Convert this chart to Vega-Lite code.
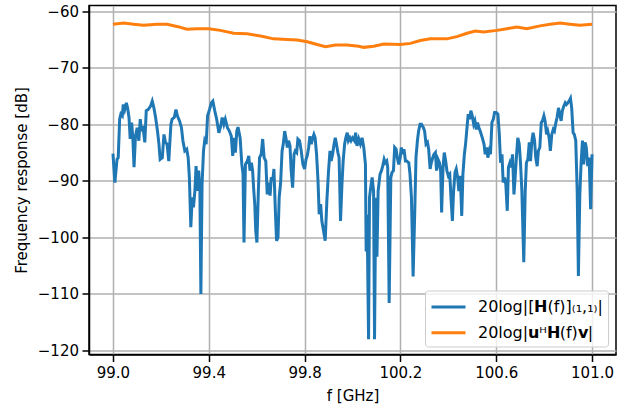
{
  "$schema": "https://vega.github.io/schema/vega-lite/v6.json",
  "width": 527,
  "height": 349,
  "autosize": {"type": "none"},
  "padding": {"left": 89, "top": 5.5, "right": 7, "bottom": 49.5},
  "config": {
    "font": "DejaVu Sans",
    "view": {"stroke": "black", "strokeWidth": 1.5},
    "axis": {
      "domainColor": "black", "domainWidth": 1.5,
      "tickColor": "black", "tickWidth": 1.5, "tickSize": 7,
      "gridColor": "#b0b0b0", "gridWidth": 1.5,
      "labelFont": "DejaVu Sans", "labelFontSize": 15, "labelColor": "black", "labelPadding": 3.5,
      "titleFont": "DejaVu Sans", "titleFontSize": 15, "titleFontWeight": "normal", "titleColor": "black"
    },
    "legend": {
      "orient": "bottom-right", "offset": 8, "padding": 5,
      "fillColor": "rgba(255,255,255,0.8)", "strokeColor": "#cccccc", "cornerRadius": 3,
      "symbolType": "M-1,0H2.4", "symbolSize": 400, "symbolStrokeWidth": 3,
      "labelFont": "DejaVu Sans", "labelFontSize": 16, "labelColor": "black", "labelOffset": 25,
      "rowPadding": 5.7, "labelLimit": 400
    }
  },
  "data": {"values": [
    {"f":99.000,"db":-85.2,"s":"H"},{"f":99.008,"db":-90.3,"s":"H"},{"f":99.017,"db":-86.2,"s":"H"},{"f":99.022,"db":-85.9,"s":"H"},
    {"f":99.028,"db":-79.1,"s":"H"},{"f":99.033,"db":-78.2,"s":"H"},{"f":99.039,"db":-78.5,"s":"H"},{"f":99.043,"db":-76.5,"s":"H"},
    {"f":99.049,"db":-77.4,"s":"H"},{"f":99.056,"db":-76.2,"s":"H"},{"f":99.061,"db":-77.1,"s":"H"},{"f":99.067,"db":-78.8,"s":"H"},
    {"f":99.072,"db":-82.6,"s":"H"},{"f":99.078,"db":-79.7,"s":"H"},{"f":99.083,"db":-82.4,"s":"H"},{"f":99.088,"db":-87.6,"s":"H"},
    {"f":99.094,"db":-82.1,"s":"H"},{"f":99.101,"db":-80.6,"s":"H"},{"f":99.108,"db":-82.9,"s":"H"},{"f":99.114,"db":-79.1,"s":"H"},
    {"f":99.119,"db":-81.2,"s":"H"},{"f":99.125,"db":-80.3,"s":"H"},{"f":99.133,"db":-83.2,"s":"H"},{"f":99.139,"db":-77.6,"s":"H"},
    {"f":99.147,"db":-77.4,"s":"H"},{"f":99.157,"db":-76.8,"s":"H"},{"f":99.164,"db":-75.9,"s":"H"},{"f":99.171,"db":-77.1,"s":"H"},
    {"f":99.178,"db":-78.8,"s":"H"},{"f":99.186,"db":-81.2,"s":"H"},{"f":99.192,"db":-83.5,"s":"H"},{"f":99.197,"db":-86.2,"s":"H"},
    {"f":99.206,"db":-85.9,"s":"H"},{"f":99.213,"db":-81.8,"s":"H"},{"f":99.219,"db":-83.2,"s":"H"},{"f":99.226,"db":-83.5,"s":"H"},
    {"f":99.233,"db":-86.5,"s":"H"},{"f":99.242,"db":-80.0,"s":"H"},{"f":99.247,"db":-79.1,"s":"H"},{"f":99.256,"db":-78.8,"s":"H"},
    {"f":99.263,"db":-77.4,"s":"H"},{"f":99.269,"db":-78.5,"s":"H"},{"f":99.278,"db":-79.4,"s":"H"},{"f":99.286,"db":-80.6,"s":"H"},
    {"f":99.292,"db":-82.9,"s":"H"},{"f":99.300,"db":-84.7,"s":"H"},{"f":99.308,"db":-84.4,"s":"H"},{"f":99.314,"db":-85.9,"s":"H"},
    {"f":99.319,"db":-89.4,"s":"H"},{"f":99.325,"db":-98.2,"s":"H"},{"f":99.331,"db":-92.9,"s":"H"},{"f":99.336,"db":-94.7,"s":"H"},
    {"f":99.342,"db":-91.8,"s":"H"},{"f":99.347,"db":-87.4,"s":"H"},{"f":99.353,"db":-91.8,"s":"H"},{"f":99.358,"db":-88.2,"s":"H"},
    {"f":99.363,"db":-91.8,"s":"H"},{"f":99.367,"db":-110.0,"s":"H"},{"f":99.372,"db":-90.6,"s":"H"},{"f":99.378,"db":-84.7,"s":"H"},
    {"f":99.383,"db":-82.9,"s":"H"},{"f":99.389,"db":-83.5,"s":"H"},{"f":99.395,"db":-78.5,"s":"H"},{"f":99.403,"db":-77.4,"s":"H"},
    {"f":99.411,"db":-76.2,"s":"H"},{"f":99.417,"db":-75.9,"s":"H"},{"f":99.425,"db":-77.6,"s":"H"},{"f":99.433,"db":-79.1,"s":"H"},
    {"f":99.442,"db":-81.5,"s":"H"},{"f":99.450,"db":-80.3,"s":"H"},{"f":99.456,"db":-78.8,"s":"H"},{"f":99.463,"db":-80.0,"s":"H"},
    {"f":99.469,"db":-79.1,"s":"H"},{"f":99.478,"db":-80.6,"s":"H"},{"f":99.486,"db":-81.2,"s":"H"},{"f":99.494,"db":-82.1,"s":"H"},
    {"f":99.500,"db":-85.6,"s":"H"},{"f":99.506,"db":-82.4,"s":"H"},{"f":99.511,"db":-85.0,"s":"H"},{"f":99.517,"db":-81.2,"s":"H"},
    {"f":99.522,"db":-80.5,"s":"H"},{"f":99.531,"db":-82.4,"s":"H"},{"f":99.538,"db":-87.1,"s":"H"},{"f":99.543,"db":-88.8,"s":"H"},
    {"f":99.547,"db":-100.9,"s":"H"},{"f":99.553,"db":-87.1,"s":"H"},{"f":99.561,"db":-86.5,"s":"H"},{"f":99.567,"db":-85.6,"s":"H"},
    {"f":99.572,"db":-88.2,"s":"H"},{"f":99.578,"db":-86.8,"s":"H"},{"f":99.583,"db":-88.2,"s":"H"},{"f":99.588,"db":-91.8,"s":"H"},
    {"f":99.592,"db":-94.1,"s":"H"},{"f":99.596,"db":-98.8,"s":"H"},{"f":99.601,"db":-100.9,"s":"H"},{"f":99.607,"db":-91.8,"s":"H"},
    {"f":99.612,"db":-85.9,"s":"H"},{"f":99.619,"db":-85.3,"s":"H"},{"f":99.625,"db":-82.6,"s":"H"},{"f":99.631,"db":-85.9,"s":"H"},
    {"f":99.638,"db":-86.5,"s":"H"},{"f":99.644,"db":-92.4,"s":"H"},{"f":99.650,"db":-90.3,"s":"H"},{"f":99.656,"db":-92.6,"s":"H"},
    {"f":99.661,"db":-89.4,"s":"H"},{"f":99.667,"db":-90.0,"s":"H"},{"f":99.672,"db":-87.9,"s":"H"},{"f":99.678,"db":-95.3,"s":"H"},
    {"f":99.683,"db":-100.6,"s":"H"},{"f":99.689,"db":-100.0,"s":"H"},{"f":99.694,"db":-92.9,"s":"H"},{"f":99.700,"db":-90.3,"s":"H"},
    {"f":99.706,"db":-84.7,"s":"H"},{"f":99.711,"db":-83.5,"s":"H"},{"f":99.717,"db":-81.2,"s":"H"},{"f":99.722,"db":-82.4,"s":"H"},
    {"f":99.728,"db":-84.1,"s":"H"},{"f":99.733,"db":-82.9,"s":"H"},{"f":99.739,"db":-83.8,"s":"H"},{"f":99.744,"db":-88.2,"s":"H"},
    {"f":99.750,"db":-91.2,"s":"H"},{"f":99.756,"db":-85.3,"s":"H"},{"f":99.761,"db":-84.7,"s":"H"},{"f":99.767,"db":-85.0,"s":"H"},
    {"f":99.772,"db":-82.6,"s":"H"},{"f":99.779,"db":-82.9,"s":"H"},{"f":99.786,"db":-84.7,"s":"H"},{"f":99.793,"db":-87.1,"s":"H"},
    {"f":99.800,"db":-87.9,"s":"H"},{"f":99.806,"db":-86.2,"s":"H"},{"f":99.811,"db":-85.6,"s":"H"},{"f":99.817,"db":-84.1,"s":"H"},
    {"f":99.822,"db":-82.1,"s":"H"},{"f":99.828,"db":-83.5,"s":"H"},{"f":99.833,"db":-82.6,"s":"H"},{"f":99.839,"db":-81.8,"s":"H"},
    {"f":99.844,"db":-82.4,"s":"H"},{"f":99.850,"db":-85.3,"s":"H"},{"f":99.856,"db":-90.0,"s":"H"},{"f":99.861,"db":-95.9,"s":"H"},
    {"f":99.867,"db":-94.1,"s":"H"},{"f":99.872,"db":-97.1,"s":"H"},{"f":99.879,"db":-98.8,"s":"H"},{"f":99.886,"db":-100.6,"s":"H"},
    {"f":99.893,"db":-93.5,"s":"H"},{"f":99.900,"db":-88.2,"s":"H"},{"f":99.906,"db":-84.7,"s":"H"},{"f":99.911,"db":-86.5,"s":"H"},
    {"f":99.917,"db":-85.3,"s":"H"},{"f":99.922,"db":-83.8,"s":"H"},{"f":99.928,"db":-82.4,"s":"H"},{"f":99.933,"db":-83.5,"s":"H"},
    {"f":99.939,"db":-85.0,"s":"H"},{"f":99.944,"db":-85.9,"s":"H"},{"f":99.950,"db":-97.1,"s":"H"},{"f":99.956,"db":-90.6,"s":"H"},
    {"f":99.961,"db":-86.5,"s":"H"},{"f":99.967,"db":-83.5,"s":"H"},{"f":99.972,"db":-82.4,"s":"H"},{"f":99.978,"db":-81.5,"s":"H"},
    {"f":99.983,"db":-82.9,"s":"H"},{"f":99.989,"db":-82.4,"s":"H"},{"f":99.994,"db":-82.9,"s":"H"},{"f":100.000,"db":-82.4,"s":"H"},
    {"f":100.008,"db":-82.9,"s":"H"},{"f":100.013,"db":-81.5,"s":"H"},{"f":100.019,"db":-83.8,"s":"H"},{"f":100.026,"db":-82.6,"s":"H"},
    {"f":100.033,"db":-83.5,"s":"H"},{"f":100.040,"db":-82.4,"s":"H"},{"f":100.047,"db":-84.1,"s":"H"},{"f":100.054,"db":-87.1,"s":"H"},
    {"f":100.057,"db":-102.5,"s":"H"},{"f":100.061,"db":-96.0,"s":"H"},{"f":100.067,"db":-118.0,"s":"H"},{"f":100.071,"db":-92.9,"s":"H"},
    {"f":100.076,"db":-91.2,"s":"H"},{"f":100.082,"db":-89.4,"s":"H"},{"f":100.088,"db":-91.8,"s":"H"},{"f":100.092,"db":-118.0,"s":"H"},
    {"f":100.097,"db":-93.0,"s":"H"},{"f":100.102,"db":-103.4,"s":"H"},{"f":100.107,"db":-91.8,"s":"H"},{"f":100.115,"db":-88.8,"s":"H"},
    {"f":100.121,"db":-88.2,"s":"H"},{"f":100.126,"db":-87.4,"s":"H"},{"f":100.132,"db":-86.2,"s":"H"},{"f":100.137,"db":-86.8,"s":"H"},
    {"f":100.143,"db":-86.5,"s":"H"},{"f":100.147,"db":-87.6,"s":"H"},{"f":100.153,"db":-111.6,"s":"H"},{"f":100.160,"db":-89.4,"s":"H"},
    {"f":100.165,"db":-88.5,"s":"H"},{"f":100.171,"db":-88.2,"s":"H"},{"f":100.176,"db":-84.1,"s":"H"},{"f":100.182,"db":-84.4,"s":"H"},
    {"f":100.187,"db":-85.9,"s":"H"},{"f":100.193,"db":-87.1,"s":"H"},{"f":100.199,"db":-85.9,"s":"H"},{"f":100.204,"db":-84.1,"s":"H"},
    {"f":100.210,"db":-85.3,"s":"H"},{"f":100.215,"db":-84.4,"s":"H"},{"f":100.221,"db":-86.5,"s":"H"},{"f":100.226,"db":-86.5,"s":"H"},
    {"f":100.235,"db":-86.8,"s":"H"},{"f":100.240,"db":-88.8,"s":"H"},{"f":100.246,"db":-92.9,"s":"H"},{"f":100.250,"db":-100.6,"s":"H"},
    {"f":100.253,"db":-106.9,"s":"H"},{"f":100.260,"db":-95.3,"s":"H"},{"f":100.265,"db":-85.9,"s":"H"},{"f":100.271,"db":-82.9,"s":"H"},
    {"f":100.276,"db":-81.2,"s":"H"},{"f":100.282,"db":-80.0,"s":"H"},{"f":100.288,"db":-80.0,"s":"H"},{"f":100.296,"db":-80.6,"s":"H"},
    {"f":100.301,"db":-81.2,"s":"H"},{"f":100.307,"db":-83.5,"s":"H"},{"f":100.313,"db":-83.2,"s":"H"},{"f":100.318,"db":-84.4,"s":"H"},
    {"f":100.324,"db":-87.9,"s":"H"},{"f":100.329,"db":-86.8,"s":"H"},{"f":100.335,"db":-85.9,"s":"H"},{"f":100.340,"db":-85.3,"s":"H"},
    {"f":100.346,"db":-85.0,"s":"H"},{"f":100.351,"db":-88.2,"s":"H"},{"f":100.357,"db":-86.2,"s":"H"},{"f":100.363,"db":-86.8,"s":"H"},
    {"f":100.368,"db":-88.2,"s":"H"},{"f":100.372,"db":-95.6,"s":"H"},{"f":100.378,"db":-87.6,"s":"H"},{"f":100.383,"db":-85.0,"s":"H"},
    {"f":100.389,"db":-86.5,"s":"H"},{"f":100.394,"db":-88.2,"s":"H"},{"f":100.400,"db":-89.1,"s":"H"},{"f":100.406,"db":-88.8,"s":"H"},
    {"f":100.411,"db":-92.9,"s":"H"},{"f":100.417,"db":-97.1,"s":"H"},{"f":100.422,"db":-91.8,"s":"H"},{"f":100.428,"db":-88.5,"s":"H"},
    {"f":100.433,"db":-87.9,"s":"H"},{"f":100.439,"db":-89.4,"s":"H"},{"f":100.444,"db":-91.8,"s":"H"},{"f":100.450,"db":-89.1,"s":"H"},
    {"f":100.456,"db":-96.2,"s":"H"},{"f":100.461,"db":-88.8,"s":"H"},{"f":100.467,"db":-85.3,"s":"H"},{"f":100.472,"db":-83.5,"s":"H"},
    {"f":100.478,"db":-80.6,"s":"H"},{"f":100.483,"db":-78.2,"s":"H"},{"f":100.489,"db":-79.1,"s":"H"},{"f":100.494,"db":-77.6,"s":"H"},
    {"f":100.500,"db":-78.5,"s":"H"},{"f":100.506,"db":-80.0,"s":"H"},{"f":100.511,"db":-79.4,"s":"H"},{"f":100.517,"db":-80.9,"s":"H"},
    {"f":100.522,"db":-79.7,"s":"H"},{"f":100.528,"db":-80.6,"s":"H"},{"f":100.533,"db":-81.2,"s":"H"},{"f":100.542,"db":-82.4,"s":"H"},
    {"f":100.549,"db":-83.5,"s":"H"},{"f":100.554,"db":-85.3,"s":"H"},{"f":100.560,"db":-84.1,"s":"H"},{"f":100.565,"db":-85.9,"s":"H"},
    {"f":100.571,"db":-84.7,"s":"H"},{"f":100.576,"db":-85.3,"s":"H"},{"f":100.582,"db":-79.7,"s":"H"},{"f":100.588,"db":-79.1,"s":"H"},
    {"f":100.593,"db":-77.9,"s":"H"},{"f":100.600,"db":-77.9,"s":"H"},{"f":100.607,"db":-78.2,"s":"H"},{"f":100.613,"db":-81.8,"s":"H"},
    {"f":100.618,"db":-86.8,"s":"H"},{"f":100.624,"db":-85.3,"s":"H"},{"f":100.629,"db":-90.3,"s":"H"},{"f":100.635,"db":-89.4,"s":"H"},
    {"f":100.640,"db":-90.6,"s":"H"},{"f":100.646,"db":-95.3,"s":"H"},{"f":100.651,"db":-87.6,"s":"H"},{"f":100.657,"db":-86.8,"s":"H"},
    {"f":100.663,"db":-87.6,"s":"H"},{"f":100.668,"db":-85.3,"s":"H"},{"f":100.674,"db":-92.4,"s":"H"},{"f":100.679,"db":-89.4,"s":"H"},
    {"f":100.685,"db":-85.3,"s":"H"},{"f":100.690,"db":-82.4,"s":"H"},{"f":100.696,"db":-83.5,"s":"H"},{"f":100.701,"db":-86.5,"s":"H"},
    {"f":100.707,"db":-91.8,"s":"H"},{"f":100.715,"db":-104.4,"s":"H"},{"f":100.721,"db":-91.8,"s":"H"},{"f":100.726,"db":-86.8,"s":"H"},
    {"f":100.732,"db":-86.2,"s":"H"},{"f":100.738,"db":-83.2,"s":"H"},{"f":100.743,"db":-86.5,"s":"H"},{"f":100.749,"db":-82.9,"s":"H"},
    {"f":100.754,"db":-81.5,"s":"H"},{"f":100.760,"db":-82.9,"s":"H"},{"f":100.765,"db":-85.9,"s":"H"},{"f":100.771,"db":-87.4,"s":"H"},
    {"f":100.776,"db":-84.7,"s":"H"},{"f":100.782,"db":-84.1,"s":"H"},{"f":100.788,"db":-79.7,"s":"H"},{"f":100.793,"db":-79.4,"s":"H"},
    {"f":100.799,"db":-78.5,"s":"H"},{"f":100.804,"db":-79.4,"s":"H"},{"f":100.810,"db":-81.8,"s":"H"},{"f":100.815,"db":-81.2,"s":"H"},
    {"f":100.821,"db":-82.4,"s":"H"},{"f":100.826,"db":-84.7,"s":"H"},{"f":100.832,"db":-81.8,"s":"H"},{"f":100.838,"db":-80.9,"s":"H"},
    {"f":100.843,"db":-81.2,"s":"H"},{"f":100.849,"db":-79.7,"s":"H"},{"f":100.854,"db":-78.8,"s":"H"},{"f":100.860,"db":-77.1,"s":"H"},
    {"f":100.865,"db":-78.2,"s":"H"},{"f":100.871,"db":-79.4,"s":"H"},{"f":100.876,"db":-77.6,"s":"H"},{"f":100.882,"db":-76.8,"s":"H"},
    {"f":100.888,"db":-76.2,"s":"H"},{"f":100.893,"db":-76.5,"s":"H"},{"f":100.899,"db":-76.2,"s":"H"},{"f":100.904,"db":-75.9,"s":"H"},
    {"f":100.910,"db":-75.4,"s":"H"},{"f":100.915,"db":-77.1,"s":"H"},{"f":100.921,"db":-81.5,"s":"H"},{"f":100.926,"db":-81.8,"s":"H"},
    {"f":100.932,"db":-82.9,"s":"H"},{"f":100.938,"db":-91.8,"s":"H"},{"f":100.943,"db":-106.8,"s":"H"},{"f":100.949,"db":-92.4,"s":"H"},
    {"f":100.954,"db":-87.1,"s":"H"},{"f":100.960,"db":-82.9,"s":"H"},{"f":100.965,"db":-87.1,"s":"H"},{"f":100.971,"db":-83.2,"s":"H"},
    {"f":100.976,"db":-84.1,"s":"H"},{"f":100.982,"db":-87.4,"s":"H"},{"f":100.988,"db":-85.9,"s":"H"},{"f":100.994,"db":-95.0,"s":"H"},
    {"f":101.000,"db":-85.3,"s":"H"},
    {"f":99.000,"db":-62.3,"s":"uHv"},{"f":99.045,"db":-62.1,"s":"uHv"},{"f":99.086,"db":-62.3,"s":"uHv"},{"f":99.128,"db":-62.5,"s":"uHv"},
    {"f":99.184,"db":-62.3,"s":"uHv"},{"f":99.226,"db":-62.3,"s":"uHv"},{"f":99.267,"db":-62.7,"s":"uHv"},{"f":99.309,"db":-63.2,"s":"uHv"},
    {"f":99.351,"db":-63.1,"s":"uHv"},{"f":99.400,"db":-63.1,"s":"uHv"},{"f":99.448,"db":-63.4,"s":"uHv"},{"f":99.504,"db":-63.9,"s":"uHv"},
    {"f":99.560,"db":-64.0,"s":"uHv"},{"f":99.616,"db":-64.4,"s":"uHv"},{"f":99.671,"db":-64.9,"s":"uHv"},{"f":99.727,"db":-65.0,"s":"uHv"},
    {"f":99.769,"db":-65.1,"s":"uHv"},{"f":99.811,"db":-65.4,"s":"uHv"},{"f":99.852,"db":-65.9,"s":"uHv"},{"f":99.887,"db":-66.3,"s":"uHv"},
    {"f":99.929,"db":-66.0,"s":"uHv"},{"f":99.978,"db":-66.0,"s":"uHv"},{"f":100.026,"db":-66.2,"s":"uHv"},{"f":100.047,"db":-66.4,"s":"uHv"},
    {"f":100.089,"db":-66.2,"s":"uHv"},{"f":100.131,"db":-65.8,"s":"uHv"},{"f":100.200,"db":-65.9,"s":"uHv"},{"f":100.242,"db":-65.7,"s":"uHv"},
    {"f":100.283,"db":-65.2,"s":"uHv"},{"f":100.325,"db":-64.9,"s":"uHv"},{"f":100.394,"db":-64.9,"s":"uHv"},{"f":100.436,"db":-64.5,"s":"uHv"},
    {"f":100.478,"db":-63.9,"s":"uHv"},{"f":100.513,"db":-63.5,"s":"uHv"},{"f":100.547,"db":-63.7,"s":"uHv"},{"f":100.603,"db":-63.4,"s":"uHv"},
    {"f":100.644,"db":-63.1,"s":"uHv"},{"f":100.686,"db":-62.8,"s":"uHv"},{"f":100.728,"db":-63.1,"s":"uHv"},{"f":100.783,"db":-62.6,"s":"uHv"},
    {"f":100.825,"db":-62.3,"s":"uHv"},{"f":100.867,"db":-62.1,"s":"uHv"},{"f":100.908,"db":-62.3,"s":"uHv"},{"f":100.950,"db":-62.5,"s":"uHv"},
    {"f":101.000,"db":-62.3,"s":"uHv"}
  ]},
  "mark": {"type": "line", "strokeWidth": 3, "clip": true},
  "encoding": {
    "x": {
      "field": "f", "type": "quantitative",
      "scale": {"domain": [98.9, 101.1], "nice": false, "zero": false},
      "axis": {"values": [99.0, 99.4, 99.8, 100.2, 100.6, 101.0], "format": ".1f", "title": "f [GHz]", "titlePadding": 8}
    },
    "y": {
      "field": "db", "type": "quantitative",
      "scale": {"domain": [-120.7, -59.0], "nice": false, "zero": false},
      "axis": {"values": [-120, -110, -100, -90, -80, -70, -60], "title": "Frequency response [dB]", "titlePadding": 8}
    },
    "color": {
      "field": "s", "type": "nominal",
      "scale": {"domain": ["H", "uHv"], "range": ["#1f77b4", "#ff7f0e"]},
      "legend": {
        "title": null,
        "labelExpr": "datum.label == 'H' ? '20log|[𝗛(f)]₍₁,₁₎|' : '20log|𝘂ᴴ𝗛(f)𝘃|'"
      }
    }
  }
}
